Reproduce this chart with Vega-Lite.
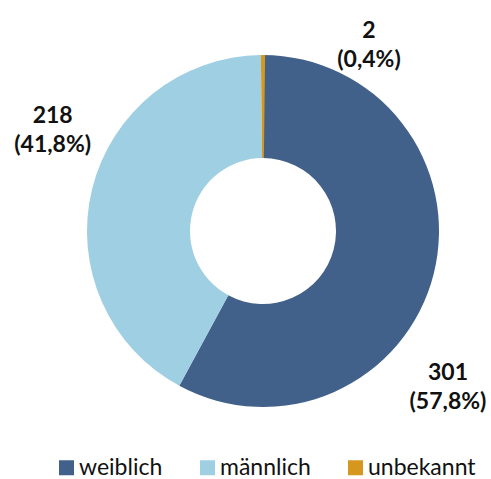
{
  "$schema": "https://vega.github.io/schema/vega-lite/v6.json",
  "width": 456,
  "height": 462,
  "autosize": {"type": "none"},
  "padding": {"left": 35, "top": 0, "right": 0, "bottom": 17},
  "background": "white",
  "config": {"view": {"stroke": null}, "font": "Lato"},
  "data": {
    "values": [
      {"Geschlecht": "weiblich", "Anzahl": 301, "Anteil": "57,8%", "Reihenfolge": 1},
      {"Geschlecht": "männlich", "Anzahl": 218, "Anteil": "41,8%", "Reihenfolge": 2},
      {"Geschlecht": "unbekannt", "Anzahl": 2, "Anteil": "0,4%", "Reihenfolge": 3}
    ]
  },
  "transform": [
    {"stack": "Anzahl", "groupby": [], "sort": [{"field": "Reihenfolge", "order": "ascending"}], "as": ["t0", "t1"]},
    {"calculate": "(datum.t0 + datum.t1) / 2", "as": "mitte"},
    {"calculate": "[format(datum.Anzahl, 'd'), '(' + datum.Anteil + ')']", "as": "Beschriftung"}
  ],
  "layer": [
    {
      "mark": {"type": "arc", "innerRadius": 73, "outerRadius": 176},
      "encoding": {
        "theta": {"field": "t0", "type": "quantitative"},
        "theta2": {"field": "t1"},
        "color": {
          "field": "Geschlecht",
          "type": "nominal",
          "sort": ["weiblich", "männlich", "unbekannt"],
          "scale": {"domain": ["weiblich", "männlich", "unbekannt"], "range": ["#41618B", "#9FCFE2", "#D6971F"]},
          "legend": {
            "orient": "none",
            "legendX": 20,
            "legendY": 456,
            "direction": "horizontal",
            "title": null,
            "symbolType": "square",
            "symbolSize": 225,
            "symbolStrokeWidth": 0,
            "labelFontSize": 23,
            "labelFont": "Lato",
            "labelColor": "#111111",
            "labelOffset": 1,
            "columnPadding": 33,
            "padding": 0
          }
        }
      }
    },
    {
      "transform": [{"filter": "datum.Geschlecht === 'weiblich'"}],
      "mark": {"type": "text", "radius": 230, "dx": -38, "dy": 86, "fontSize": 23, "fontWeight": "bold", "lineHeight": 29, "align": "center", "baseline": "middle", "color": "#111111"},
      "encoding": {
        "theta": {"field": "mitte", "type": "quantitative"},
        "text": {"field": "Beschriftung"}
      }
    },
    {
      "transform": [{"filter": "datum.Geschlecht === 'männlich'"}],
      "mark": {"type": "text", "radius": 230, "dx": 13, "dy": -60, "fontSize": 23, "fontWeight": "bold", "lineHeight": 29, "align": "center", "baseline": "middle", "color": "#111111"},
      "encoding": {
        "theta": {"field": "mitte", "type": "quantitative"},
        "text": {"field": "Beschriftung"}
      }
    },
    {
      "transform": [{"filter": "datum.Geschlecht === 'unbekannt'"}],
      "mark": {"type": "text", "radius": 230, "dx": 106, "dy": 30, "fontSize": 23, "fontWeight": "bold", "lineHeight": 29, "align": "center", "baseline": "middle", "color": "#111111"},
      "encoding": {
        "theta": {"field": "mitte", "type": "quantitative"},
        "text": {"field": "Beschriftung"}
      }
    }
  ]
}
